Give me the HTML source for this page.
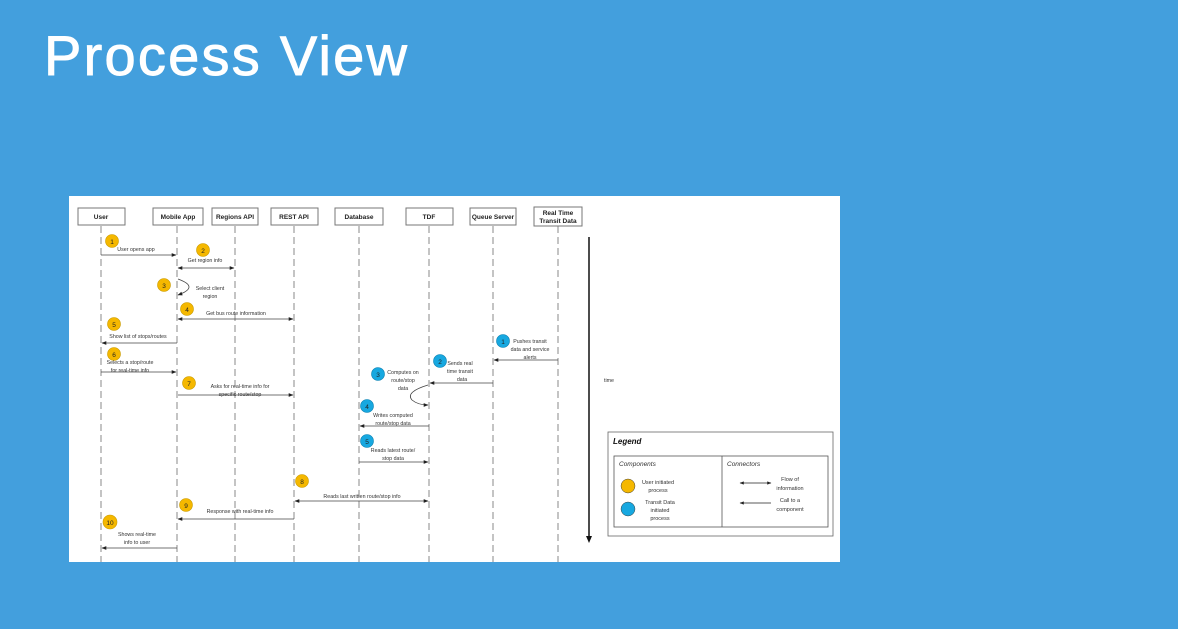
<!DOCTYPE html>
<html><head><meta charset="utf-8"><style>
html,body{margin:0;padding:0;background:#439fdd;width:1178px;height:629px;overflow:hidden}
svg{display:block}
text{font-family:"Liberation Sans",sans-serif}
</style></head><body>
<svg width="1178" height="629" viewBox="0 0 1178 629" xmlns="http://www.w3.org/2000/svg">
<defs>
<marker id="a" viewBox="0 0 10 10" refX="9" refY="5" markerWidth="6" markerHeight="6" orient="auto-start-reverse"><path d="M0,1 L10,5 L0,9 z" fill="#222"/></marker>
</defs>
<rect width="1178" height="629" fill="#439fdd"/>
<text x="44" y="75" font-size="56" fill="#fff" stroke="#fff" stroke-width="0.9" textLength="363" lengthAdjust="spacing">Process View</text>
<rect x="69" y="196" width="771" height="366" fill="#fff"/>
<g stroke="#888" stroke-width="1" stroke-dasharray="7,4" fill="none">
<line x1="101" y1="226" x2="101" y2="562"/><line x1="177" y1="226" x2="177" y2="562"/>
<line x1="235" y1="226" x2="235" y2="562"/><line x1="294" y1="226" x2="294" y2="562"/>
<line x1="359" y1="226" x2="359" y2="562"/><line x1="429" y1="226" x2="429" y2="562"/>
<line x1="493" y1="226" x2="493" y2="562"/><line x1="558" y1="226" x2="558" y2="562"/>
</g>
<g fill="#fff" stroke="#777" stroke-width="1">
<rect x="78" y="208" width="47" height="17"/><rect x="153" y="208" width="50" height="17"/>
<rect x="212" y="208" width="46" height="17"/><rect x="271" y="208" width="47" height="17"/>
<rect x="335" y="208" width="48" height="17"/><rect x="406" y="208" width="47" height="17"/>
<rect x="470" y="208" width="46" height="17"/><rect x="534" y="207" width="48" height="19"/>
</g>
<g font-size="6.5" font-weight="bold" text-anchor="middle" fill="#222">
<text x="101" y="219">User</text><text x="178" y="219">Mobile App</text><text x="235" y="219">Regions API</text>
<text x="294" y="219">REST API</text><text x="359" y="219">Database</text><text x="429" y="219">TDF</text>
<text x="493" y="219">Queue Server</text><text x="558" y="215">Real Time</text><text x="558" y="223">Transit Data</text>
</g>
<g stroke="#444" stroke-width="0.8" fill="none">
<line x1="101" y1="255" x2="176" y2="255" marker-end="url(#a)"/>
<line x1="178" y1="268" x2="234" y2="268" marker-start="url(#a)" marker-end="url(#a)"/>
<path d="M178,279 Q200,287 178,295" marker-end="url(#a)"/>
<line x1="178" y1="319" x2="293" y2="319" marker-start="url(#a)" marker-end="url(#a)"/>
<line x1="177" y1="343" x2="102" y2="343" marker-end="url(#a)"/>
<line x1="101" y1="372" x2="176" y2="372" marker-end="url(#a)"/>
<line x1="178" y1="395" x2="293" y2="395" marker-end="url(#a)"/>
<line x1="558" y1="360" x2="494" y2="360" marker-end="url(#a)"/>
<line x1="493" y1="383" x2="430" y2="383" marker-end="url(#a)"/>
<path d="M428,385 Q405,392 412,400 Q418,405 428,405" marker-end="url(#a)"/>
<line x1="429" y1="426" x2="360" y2="426" marker-end="url(#a)"/>
<line x1="359" y1="462" x2="428" y2="462" marker-end="url(#a)"/>
<line x1="295" y1="501" x2="428" y2="501" marker-start="url(#a)" marker-end="url(#a)"/>
<line x1="294" y1="519" x2="178" y2="519" marker-end="url(#a)"/>
<line x1="177" y1="548" x2="102" y2="548" marker-end="url(#a)"/>
</g>
<g stroke="#c89a00" stroke-width="0.6" fill="#f5b800">
<circle cx="112" cy="241" r="6.5"/><circle cx="203" cy="250" r="6.5"/><circle cx="164" cy="285" r="6.5"/>
<circle cx="187" cy="309" r="6.5"/><circle cx="114" cy="324" r="6.5"/><circle cx="114" cy="354" r="6.5"/>
<circle cx="189" cy="383" r="6.5"/><circle cx="302" cy="481" r="6.5"/><circle cx="186" cy="505" r="6.5"/>
<circle cx="110" cy="522" r="7"/>
</g>
<g stroke="#0a7fb0" stroke-width="0.6" fill="#17a8e0">
<circle cx="503" cy="341" r="6.5"/><circle cx="440" cy="361" r="6.5"/><circle cx="378" cy="374" r="6.5"/>
<circle cx="367" cy="406" r="6.5"/><circle cx="367" cy="441" r="6.5"/>
</g>
<g font-size="6.5" text-anchor="middle" fill="#222">
<text x="112" y="244">1</text><text x="203" y="253">2</text><text x="164" y="288">3</text><text x="187" y="312">4</text>
<text x="114" y="327">5</text><text x="114" y="357">6</text><text x="189" y="386">7</text><text x="302" y="484">8</text>
<text x="186" y="508">9</text><text x="110" y="525">10</text>
<text x="503" y="344">1</text><text x="440" y="364">2</text><text x="378" y="377">3</text><text x="367" y="409">4</text><text x="367" y="444">5</text>
</g>
<g font-size="5.3" fill="#333" text-anchor="middle">
<text x="136" y="251">User opens app</text>
<text x="205" y="262">Get region info</text>
<text x="210" y="290">Select client</text><text x="210" y="298">region</text>
<text x="236" y="315">Get bus route information</text>
<text x="138" y="338">Show list of stops/routes</text>
<text x="130" y="364">Selects a stop/route</text><text x="130" y="372">for real-time info</text>
<text x="240" y="388">Asks for real-time info for</text><text x="240" y="396">specific route/stop</text>
<text x="530" y="343">Pushes transit</text><text x="530" y="351">data and service</text><text x="530" y="359">alerts</text>
<text x="460" y="365">Sends real</text><text x="460" y="373">time transit</text><text x="462" y="381">data</text>
<text x="403" y="374">Computes on</text><text x="403" y="382">route/stop</text><text x="403" y="390">data</text>
<text x="393" y="417">Writes computed</text><text x="393" y="425">route/stop data</text>
<text x="393" y="452">Reads latest route/</text><text x="393" y="460">stop data</text>
<text x="362" y="498">Reads last written route/stop info</text>
<text x="240" y="513">Response with real-time info</text>
<text x="137" y="536">Shows real-time</text><text x="137" y="544">info to user</text>
<text x="609" y="382">time</text>
</g>
<line x1="589" y1="237" x2="589" y2="538" stroke="#111" stroke-width="1.5"/>
<path d="M586,536 L592,536 L589,543 z" fill="#111"/>
<rect x="608" y="432" width="225" height="104" fill="#fff" stroke="#666" stroke-width="0.8"/>
<text x="613" y="444" font-size="8" font-weight="bold" font-style="italic" fill="#111">Legend</text>
<rect x="614" y="456" width="214" height="71" fill="none" stroke="#555" stroke-width="0.8"/>
<line x1="722" y1="456" x2="722" y2="527" stroke="#555" stroke-width="0.8"/>
<g font-size="6.5" font-style="italic" fill="#333"><text x="619" y="466">Components</text><text x="727" y="466">Connectors</text></g>
<circle cx="628" cy="486" r="7" fill="#f5b800" stroke="#444" stroke-width="0.5"/>
<circle cx="628" cy="509" r="7" fill="#17a8e0" stroke="#444" stroke-width="0.5"/>
<g font-size="5.5" fill="#333" text-anchor="middle">
<text x="658" y="484">User initiated</text><text x="658" y="492">process</text>
<text x="660" y="504">Transit Data</text><text x="660" y="512">initiated</text><text x="660" y="520">process</text>
<text x="790" y="481">Flow of</text><text x="790" y="490">information</text>
<text x="790" y="502">Call to a</text><text x="790" y="511">component</text>
</g>
<line x1="740" y1="483" x2="771" y2="483" stroke="#222" stroke-width="0.7" marker-start="url(#a)" marker-end="url(#a)"/>
<line x1="771" y1="503" x2="740" y2="503" stroke="#222" stroke-width="0.7" marker-end="url(#a)"/>
</svg>
</body></html>
